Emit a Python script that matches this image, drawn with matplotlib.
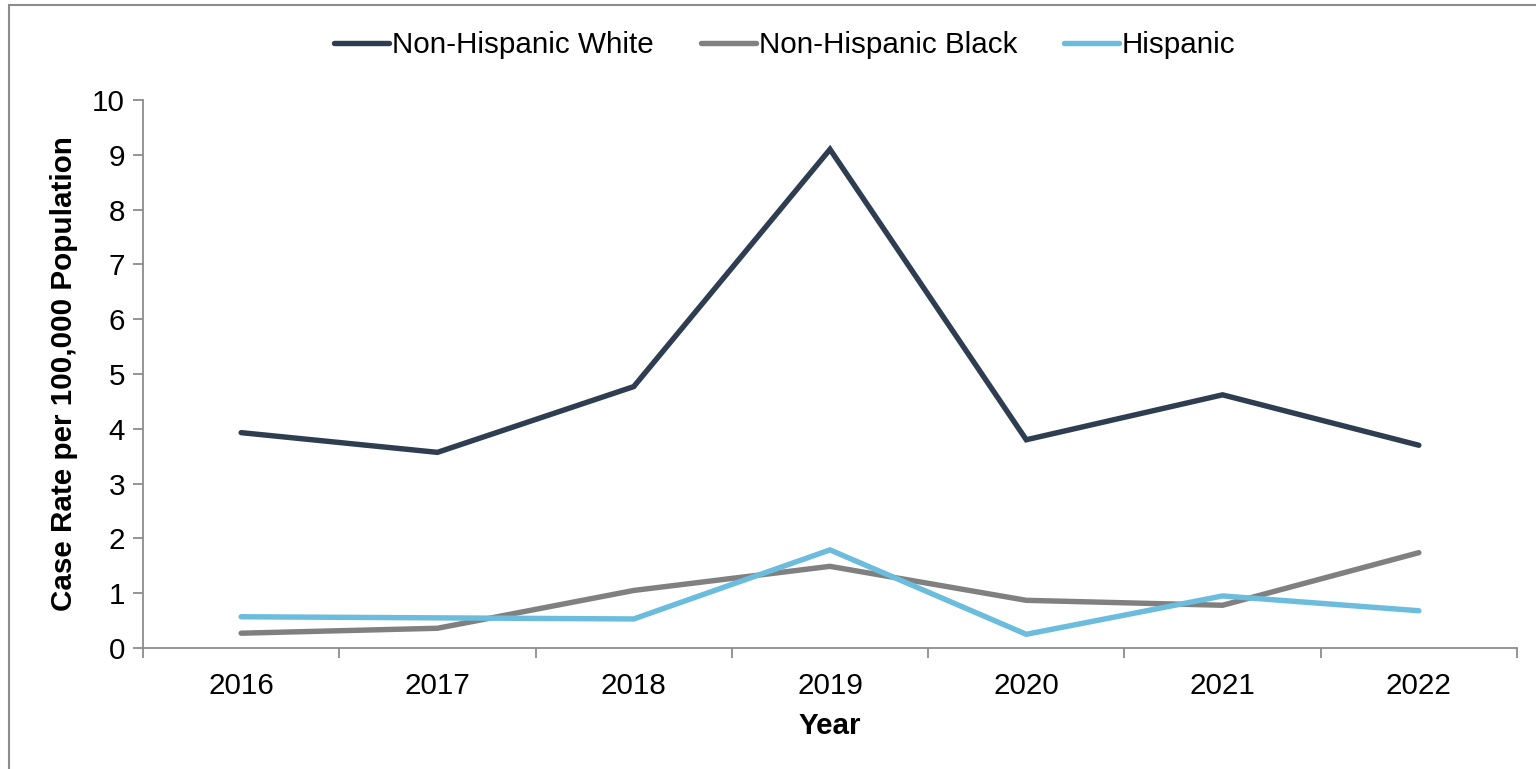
import numpy as np
import matplotlib.pyplot as plt
from matplotlib.patches import Rectangle

plt.rcParams['font.family'] = ['Liberation Sans', 'DejaVu Sans']

# Data
years = ['2016', '2017', '2018', '2019', '2020', '2021', '2022']
white = [3.93, 3.57, 4.77, 9.10, 3.80, 4.62, 3.70]
black = [0.27, 0.36, 1.05, 1.49, 0.87, 0.78, 1.74]
hispanic = [0.57, 0.55, 0.53, 1.79, 0.25, 0.95, 0.68]

series = [
    ('Non-Hispanic White', white, '#2E3E50'),
    ('Non-Hispanic Black', black, '#808080'),
    ('Hispanic', hispanic, '#6CBCDD'),
]

fs = 21.3

fig = plt.figure(figsize=(15.36, 7.69), dpi=100)
ax = fig.add_axes([143/1536, 1 - 648/769, (1517 - 143)/1536, (648 - 100)/769])

x = np.arange(1, len(years) + 1)
for name, vals, col in series:
    ax.plot(x, vals, color=col, lw=3.9, label=name,
            solid_capstyle='round', solid_joinstyle='miter')

ax.set_xlim(0.5, len(years) + 0.5)
ax.set_ylim(0, 10)
ax.set_yticks(range(0, 11))
ax.set_xticks(np.arange(0.5, len(years) + 1, 1))
ax.set_xticklabels([])
ax.set_xticks(x, minor=True)
ax.set_xticklabels(years, minor=True)
ax.tick_params(axis='x', which='minor', length=0, pad=17, labelsize=fs)
ax.tick_params(axis='x', which='major', length=7, width=1.3, color='#8C8C8C')
ax.tick_params(axis='y', length=7, width=1.3, color='#8C8C8C', labelsize=fs, pad=6)

for s in ['top', 'right']:
    ax.spines[s].set_visible(False)
for s in ['left', 'bottom']:
    ax.spines[s].set_color('#8C8C8C')
    ax.spines[s].set_linewidth(1.3)

ax.set_xlabel('Year', fontsize=fs, fontweight='bold', labelpad=9)
ax.set_ylabel('Case Rate per 100,000 Population', fontsize=fs, fontweight='bold', labelpad=10)

fig.legend(loc='center', bbox_to_anchor=(0.511, 1 - 45/769), ncol=3, frameon=False,
           fontsize=fs, handlelength=1.85, handletextpad=0.1, columnspacing=1.6)

fig.patches.append(Rectangle((9/1536, -0.05), 1.1, 1 - 5/769 + 0.05,
                             transform=fig.transFigure, fill=False,
                             edgecolor='#8C8C8C', lw=1.5, clip_on=False))

fig.savefig('out.png', dpi=100, facecolor='white')
